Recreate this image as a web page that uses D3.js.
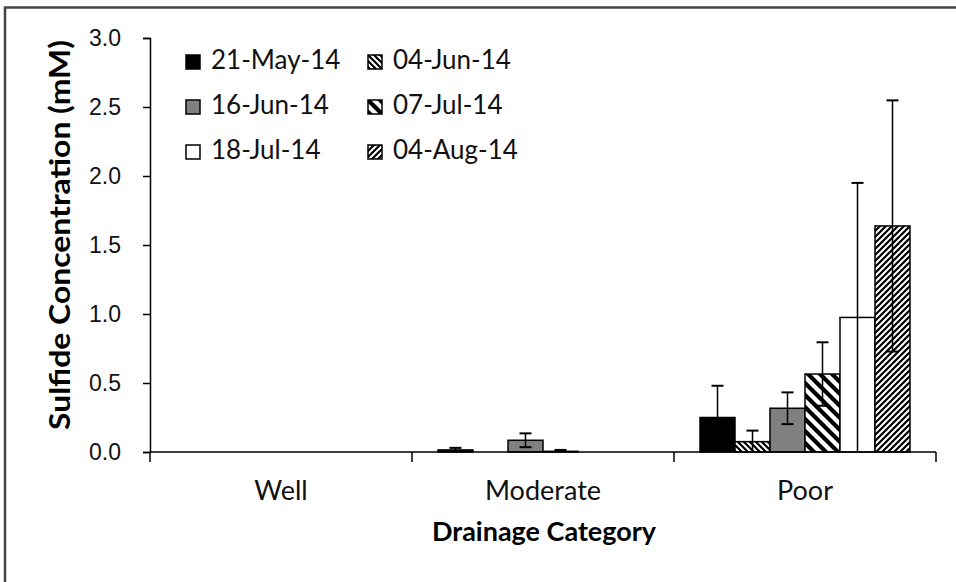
<!DOCTYPE html>
<html>
<head>
<meta charset="utf-8">
<script src="https://cdn.jsdelivr.net/npm/d3@7/dist/d3.min.js"></script>
<style>
  html, body { margin: 0; padding: 0; background: #fff; }
  svg { display: block; font-family: Lato, "Open Sans", "Liberation Sans", sans-serif; }
</style>
</head>
<body>
<svg id="chart" width="956" height="582"></svg>
<script>
// Drainage categories along the x axis
const categories = ["Well", "Moderate", "Poor"];
// Sampling dates (one bar per date within each category)
const dates = ["21-May-14", "04-Jun-14", "16-Jun-14", "07-Jul-14", "18-Jul-14", "04-Aug-14"];
// Mean sulfide concentration (mM) per date, ordered Well, Moderate, Poor
const may21 = [0, 0.015, 0.25];
const jun04 = [0, 0, 0.075];
const jun16 = [0, 0.085, 0.317];
const jul07 = [0, 0.005, 0.565];
const jul18 = [0, 0, 0.975];
const aug04 = [0, 0, 1.638];
// Standard error (mM) per date
const may21Err = [0, 0.015, 0.23];
const jun04Err = [0, 0, 0.08];
const jun16Err = [0, 0.05, 0.115];
const jul07Err = [0, 0.01, 0.23];
const jul18Err = [0, 0, 0.975];
const aug04Err = [0, 0, 0.91];
// Y axis ticks
const yTicks = [0, 0.5, 1.0, 1.5, 2.0, 2.5, 3.0];

const seriesValues = [may21, jun04, jun16, jul07, jul18, aug04];
const seriesErrors = [may21Err, jun04Err, jun16Err, jul07Err, jul18Err, aug04Err];

const svg = d3.select("#chart");

// Chart frame
svg.append("rect")
  .attr("x", 5).attr("y", 7.5).attr("width", 960).attr("height", 590)
  .attr("fill", "none").attr("stroke", "#444").attr("stroke-width", 2.5);

// Fill patterns for the hatched series
const defs = svg.append("defs");
function stripes(id, size, width, flip) {
  const p = defs.append("pattern")
    .attr("id", id).attr("patternUnits", "userSpaceOnUse")
    .attr("width", size).attr("height", size);
  p.append("rect").attr("width", size).attr("height", size).attr("fill", "#fff");
  const path = flip
    ? `M0,${size} L${size},0 M${-size/2},${size/2} L${size/2},${-size/2} M${size/2},${size*1.5} L${size*1.5},${size/2}`
    : `M0,0 L${size},${size} M${-size/2},${size/2} L${size/2},${size*1.5} M${size/2},${-size/2} L${size*1.5},${size/2}`;
  p.append("path").attr("d", path).attr("stroke", "#000").attr("stroke-width", width);
}
stripes("thinBack", 6, 2.2, false);
stripes("wideBack", 12, 4.2, false);
stripes("thinFwd", 6, 2.2, true);

const fills = ["#000", "url(#thinBack)", "#808080", "url(#wideBack)", "#fff", "url(#thinFwd)"];

const x0 = d3.scaleBand().domain(categories).range([150, 936]).paddingInner(0).paddingOuter(0);
const x1 = d3.scaleBand().domain(dates).range([0, x0.bandwidth()]).paddingOuter(0.743).paddingInner(0);
const y = d3.scaleLinear().domain([0, 3]).range([452, 38]);

// Bars with error bars
const groups = svg.append("g").selectAll("g")
  .data(categories).join("g")
  .attr("transform", d => `translate(${x0(d)},0)`);

groups.each(function(cat, ci) {
  const g = d3.select(this);
  dates.forEach((dt, si) => {
    const v = seriesValues[si][ci];
    const e = seriesErrors[si][ci];
    const bx = x1(dt);
    const bw = x1.bandwidth();
    if (v > 0) {
      g.append("rect")
        .attr("x", bx).attr("y", y(v))
        .attr("width", bw).attr("height", y(0) - y(v))
        .attr("fill", fills[si]).attr("stroke", "#000").attr("stroke-width", 1.5);
    }
    if (e > 0) {
      const cx = bx + bw / 2;
      const lo = v - e, hi = v + e;
      const cap = 6;
      // whisker is clipped at the axis
      g.append("line").attr("x1", cx).attr("x2", cx).attr("y1", y(Math.max(0, lo))).attr("y2", y(hi))
        .attr("stroke", "#000").attr("stroke-width", 1.5);
      g.append("line").attr("x1", cx - cap).attr("x2", cx + cap).attr("y1", y(hi)).attr("y2", y(hi))
        .attr("stroke", "#000").attr("stroke-width", 2);
      if (lo > 0.001) {
        g.append("line").attr("x1", cx - cap).attr("x2", cx + cap).attr("y1", y(lo)).attr("y2", y(lo))
          .attr("stroke", "#000").attr("stroke-width", 2);
      }
    }
  });
});

// Y axis
const yAxis = svg.append("g").attr("transform", "translate(150,0)")
  .call(d3.axisLeft(y).tickValues(yTicks).tickFormat(d3.format(".1f")).tickSizeOuter(0).tickSize(7).tickPadding(22));
yAxis.select(".domain").attr("stroke", "#000").attr("stroke-width", 1.5);
yAxis.selectAll(".tick line").attr("stroke", "#000").attr("stroke-width", 1.5);
yAxis.selectAll(".tick text").attr("font-size", 23).attr("fill", "#111").attr("font-family", "inherit");

// X axis: ticks at category boundaries
svg.append("line").attr("x1", 150).attr("x2", 936).attr("y1", y(0)).attr("y2", y(0))
  .attr("stroke", "#000").attr("stroke-width", 1.5);
const boundaries = categories.map(c => x0(c)).concat([x0(categories[categories.length - 1]) + x0.bandwidth()]);
svg.append("g").selectAll("line").data(boundaries).join("line")
  .attr("x1", d => d).attr("x2", d => d).attr("y1", y(0)).attr("y2", y(0) + 10)
  .attr("stroke", "#000").attr("stroke-width", 1.5);
svg.append("g").selectAll("text").data(categories).join("text")
  .attr("x", d => x0(d) + x0.bandwidth() / 2).attr("y", 500)
  .attr("text-anchor", "middle").attr("font-size", 27).attr("fill", "#111")
  .text(d => d);

// Axis titles
svg.append("text").attr("x", 544).attr("y", 541).attr("text-anchor", "middle")
  .attr("font-size", 27).attr("font-weight", "bold").attr("fill", "#000")
  .attr("textLength", 224).attr("lengthAdjust", "spacingAndGlyphs")
  .text("Drainage Category");
svg.append("text").attr("transform", "translate(70,235) rotate(-90)").attr("text-anchor", "middle")
  .attr("font-size", 29).attr("font-weight", "bold").attr("fill", "#000")
  .attr("textLength", 390).attr("lengthAdjust", "spacingAndGlyphs")
  .text("Sulfide Concentration (mM)");

// Legend, two columns by three rows
const legend = svg.append("g").selectAll("g").data(dates).join("g")
  .attr("transform", (d, i) => `translate(${186 + (i % 2) * 182},${55 + Math.floor(i / 2) * 45})`);
legend.append("rect").attr("width", 14).attr("height", 14)
  .attr("fill", (d, i) => fills[i]).attr("stroke", "#000").attr("stroke-width", 1.5);
legend.append("text").attr("x", 25).attr("y", 14).attr("font-size", 26).attr("fill", "#111")
  .text(d => d);
</script>
</body>
</html>
